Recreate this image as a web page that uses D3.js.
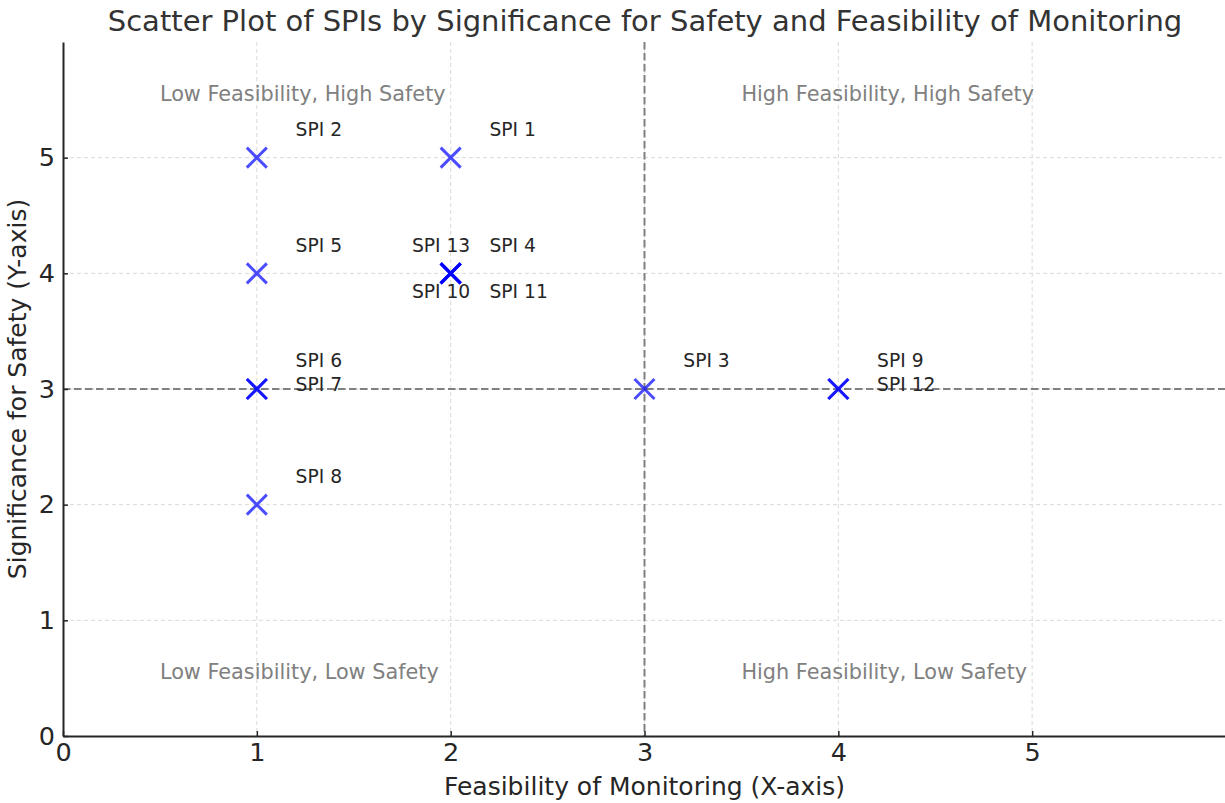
<!DOCTYPE html>
<html><head><meta charset="utf-8">
<script src="https://cdn.jsdelivr.net/npm/d3@7"></script>
<style>body{margin:0;background:#fff;} svg{display:block;font-family:"DejaVu Sans",sans-serif;}</style>
</head><body>
<svg id="chart" width="1225" height="803"></svg>
<script>
const names = ["SPI 1","SPI 2","SPI 3","SPI 4","SPI 5","SPI 6","SPI 7","SPI 8","SPI 9","SPI 10","SPI 11","SPI 12","SPI 13"];
const feasibility = [2,1,3,2,1,1,1,1,4,2,2,4,2];
const safety = [5,5,3,4,4,3,3,2,3,4,4,3,4];
const labelX = [2.2,1.2,3.2,2.2,1.2,1.2,1.2,1.2,4.2,1.8,2.2,4.2,1.8];
const labelY = [5.2,5.2,3.2,4.2,4.2,3.2,3.0,2.2,3.2,3.8,3.8,3.0,4.2];
const xTicks = [0,1,2,3,4,5];
const yTicks = [0,1,2,3,4,5];
const quadrantLabels = ["Low Feasibility, High Safety","High Feasibility, High Safety","Low Feasibility, Low Safety","High Feasibility, Low Safety"];
const quadrantX = [0.5,3.5,0.5,3.5];
const quadrantY = [5.5,5.5,0.5,0.5];
const threshold = 3;

const svg = d3.select("#chart");
const m = {left:63, right:1226, top:42, bottom:736};
const x = d3.scaleLinear().domain([0,6]).range([m.left,m.right]);
const y = d3.scaleLinear().domain([0,6]).range([m.bottom,m.top]);

// grid
svg.append("g").selectAll("line").data(xTicks.filter(d=>d>0)).join("line")
  .attr("x1",d=>x(d)).attr("x2",d=>x(d)).attr("y1",m.top).attr("y2",m.bottom)
  .attr("stroke","#d9d9d9").attr("stroke-width",1).attr("stroke-dasharray","4,3");
svg.append("g").selectAll("line").data(yTicks.filter(d=>d>0)).join("line")
  .attr("y1",d=>y(d)).attr("y2",d=>y(d)).attr("x1",m.left).attr("x2",m.right)
  .attr("stroke","#d9d9d9").attr("stroke-width",1).attr("stroke-dasharray","4,3");

// threshold lines
svg.append("line").attr("x1",x(threshold)).attr("x2",x(threshold)).attr("y1",m.top).attr("y2",m.bottom)
  .attr("stroke","#808080").attr("stroke-width",2).attr("stroke-dasharray","7.5,3.5");
svg.append("line").attr("y1",y(threshold)).attr("y2",y(threshold)).attr("x1",m.left).attr("x2",m.right)
  .attr("stroke","#808080").attr("stroke-width",2).attr("stroke-dasharray","7.5,3.5");

// axes
const xAxis = svg.append("g").attr("transform",`translate(0,${m.bottom})`)
  .call(d3.axisBottom(x).tickValues(xTicks).tickFormat(d3.format("d")).tickSizeInner(-5).tickSizeOuter(0).tickPadding(7));
const yAxis = svg.append("g").attr("transform",`translate(${m.left},0)`)
  .call(d3.axisLeft(y).tickValues(yTicks).tickFormat(d3.format("d")).tickSizeInner(-5).tickSizeOuter(0).tickPadding(8));
[xAxis,yAxis].forEach(a=>{
  a.attr("font-family","DejaVu Sans").attr("font-size",25.5);
  a.select(".domain").attr("stroke","#262626").attr("stroke-width",2);
  a.selectAll(".tick line").attr("stroke","#262626").attr("stroke-width",1.5);
  a.selectAll(".tick text").attr("fill","#262626");
});

// quadrant labels
svg.append("g").selectAll("text").data(quadrantLabels).join("text")
  .attr("x",(d,i)=>x(quadrantX[i])).attr("y",(d,i)=>y(quadrantY[i]) + 1)
  .attr("font-size",20.8).attr("fill","#808080").text(d=>d);

// markers
const s = 10;
svg.append("g").selectAll("path").data(names).join("path")
  .attr("d",(d,i)=>{const cx=x(feasibility[i]), cy=y(safety[i]);
    return `M${cx-s},${cy-s}L${cx+s},${cy+s}M${cx-s},${cy+s}L${cx+s},${cy-s}`;})
  .attr("stroke","#0000ff").attr("stroke-opacity",0.7).attr("stroke-width",3).attr("fill","none");

// point labels
svg.append("g").selectAll("text").data(names).join("text")
  .attr("x",(d,i)=>x(labelX[i])).attr("y",(d,i)=>y(labelY[i]) + 1.5)
  .attr("font-size",18.7).attr("fill","#262626").text(d=>d);

// title & axis labels
svg.append("text").attr("x",645).attr("y",31).attr("text-anchor","middle")
  .attr("font-size",29).attr("fill","#333").text("Scatter Plot of SPIs by Significance for Safety and Feasibility of Monitoring");
svg.append("text").attr("x",(m.left+m.right)/2).attr("y",795).attr("text-anchor","middle")
  .attr("font-size",25).attr("fill","#262626").text("Feasibility of Monitoring (X-axis)");
svg.append("text").attr("transform",`translate(26,${(m.top+m.bottom)/2}) rotate(-90)`).attr("text-anchor","middle")
  .attr("font-size",25).attr("fill","#262626").text("Significance for Safety (Y-axis)");
</script>
</body></html>
